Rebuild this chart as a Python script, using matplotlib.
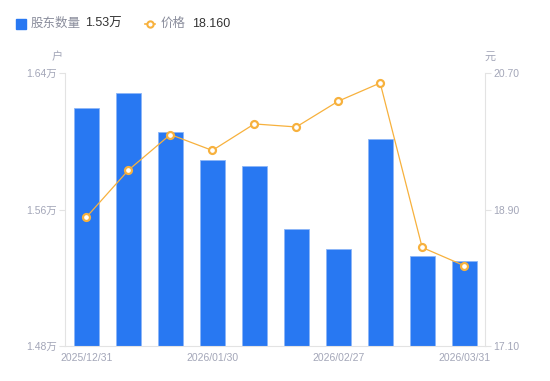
import matplotlib
matplotlib.use("Agg")
import matplotlib.pyplot as plt
from matplotlib.lines import Line2D

plt.rcParams["font.family"] = ["Liberation Sans", "Noto Sans CJK SC", "DejaVu Sans"]

dates = ["2025/12/31", "2026/01/09", "2026/01/16", "2026/01/30", "2026/02/06",
         "2026/02/13", "2026/02/27", "2026/03/06", "2026/03/13", "2026/03/31"]
holders = [1.6195, 1.6283, 1.6054, 1.5890, 1.5858, 1.5485, 1.5367, 1.6015, 1.5325, 1.5300]
prices = [18.80, 19.42, 19.89, 19.68, 20.03, 19.99, 20.33, 20.57, 18.40, 18.16]

bar_color = "#2878f2"
line_color = "#f7b13d"
label_color = "#a3a6b8"
axis_color = "#e3e3e3"

fig = plt.figure(figsize=(5.5, 3.81), dpi=100, facecolor="white")
ax = fig.add_axes([0.119, 0.092, 0.763, 0.716])
ax2 = ax.twinx()

x = list(range(len(dates)))
ax.bar(x, holders, width=0.6, color=bar_color, edgecolor="#8cb6f7", linewidth=0.6, zorder=2)
ax.set_ylim(1.48, 1.64)
ax.set_xlim(-0.5, len(dates) - 0.5)
ax.set_yticks([1.48, 1.56, 1.64])
ax.set_yticklabels(["1.48万", "1.56万", "1.64万"])
ax.set_xticks([0, 3, 6, 9])
ax.set_xticklabels([dates[i] for i in [0, 3, 6, 9]])

ax2.plot(x, prices, color=line_color, linewidth=0.9, marker="o", markersize=5,
         markerfacecolor="white", markeredgecolor=line_color, markeredgewidth=1.6, zorder=3)
ax2.set_ylim(17.10, 20.70)
ax2.set_yticks([17.10, 18.90, 20.70])
ax2.set_yticklabels(["17.10", "18.90", "20.70"])

for a in (ax, ax2):
    for s in a.spines.values():
        s.set_visible(False)
    a.tick_params(colors=axis_color, labelcolor=label_color, labelsize=7.5, length=4, width=0.8)
ax.spines["left"].set_visible(True)
ax.spines["left"].set_color(axis_color)
ax.spines["bottom"].set_visible(True)
ax.spines["bottom"].set_color(axis_color)
ax2.spines["right"].set_visible(True)
ax2.spines["right"].set_color(axis_color)
ax.tick_params(axis="x", length=0, pad=5)
ax.tick_params(axis="y", pad=2)
ax2.tick_params(axis="y", pad=2)
ax2.set_zorder(ax.get_zorder() + 1)
ax2.patch.set_visible(False)

fig.text(57 / 550, 1 - 57 / 381, "户", color=label_color, fontsize=8, ha="center", va="center")
fig.text(490 / 550, 1 - 57 / 381, "元", color=label_color, fontsize=8, ha="center", va="center")

# legend row
fig.patches.append(plt.Rectangle((16 / 550, 1 - 29 / 381), 10 / 550, 10 / 381,
                                 transform=fig.transFigure, color=bar_color, figure=fig))
fig.text(31 / 550, 1 - 24 / 381, "股东数量", color="#8a8d9c", fontsize=9, va="center")
fig.text(85 / 550, 1 - 24 / 381, "1.53万", color="#333333", fontsize=9, va="center")
fig.lines.append(Line2D([145 / 550, 155 / 550], [1 - 24 / 381, 1 - 24 / 381], transform=fig.transFigure,
                        color=line_color, linewidth=1.2, figure=fig))
fig.lines.append(Line2D([150 / 550], [1 - 24 / 381], transform=fig.transFigure, color=line_color,
                        marker="o", markersize=4.5, markerfacecolor="white", markeredgewidth=1.5,
                        linestyle="none", figure=fig))
fig.text(161 / 550, 1 - 24 / 381, "价格", color="#8a8d9c", fontsize=9, va="center")
fig.text(192 / 550, 1 - 24 / 381, "18.160", color="#333333", fontsize=9, va="center")

fig.savefig("out.png", dpi=100, facecolor="white")
